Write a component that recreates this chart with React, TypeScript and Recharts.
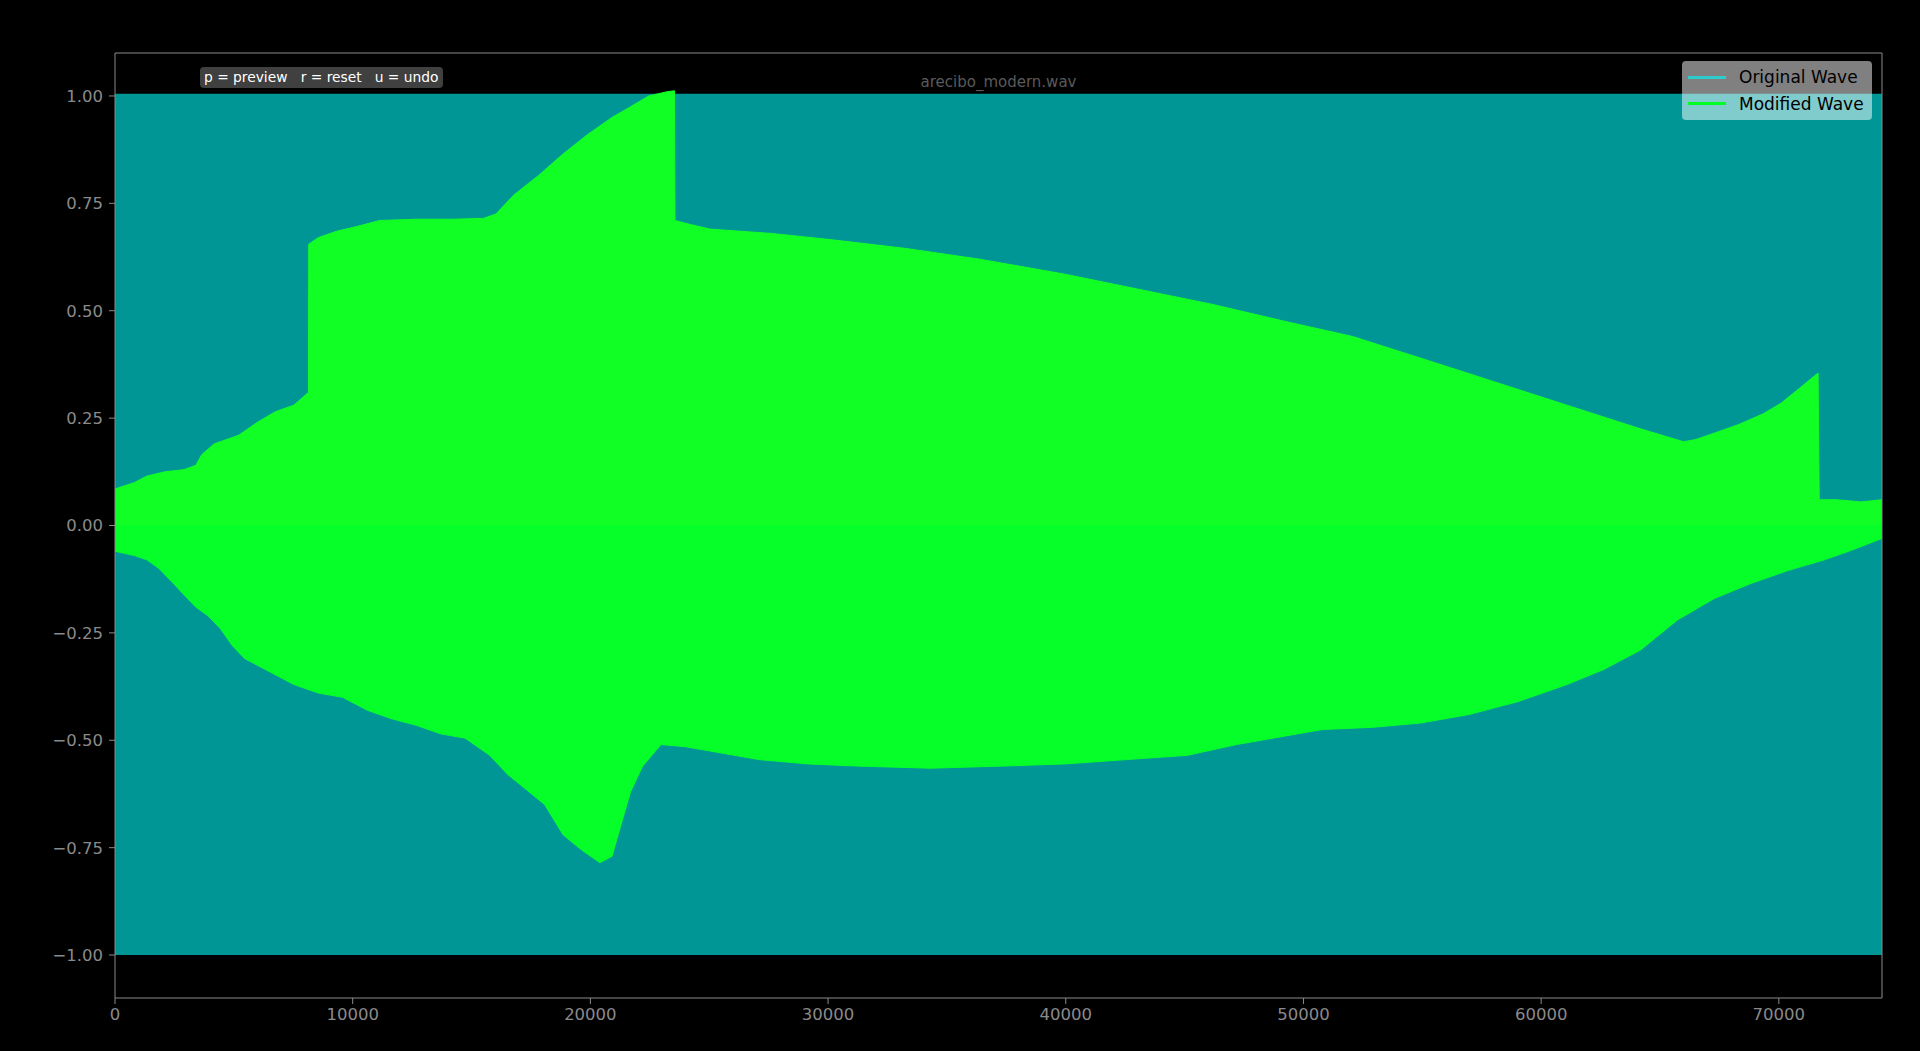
import React from 'react';
import { ComposedChart, Area, XAxis, YAxis, Legend, ReferenceLine } from 'recharts';

// envelope of the modified wave
const upperX = [0, 820, 1340, 2100, 2900, 3400, 3650, 4170, 5200, 5980, 6750, 7520, 8140, 8150, 8550, 9320, 10100, 11130, 12670, 14220, 15500, 16020, 16790, 17820, 18850, 19880, 20910, 21690, 22460, 23230, 23540, 23560, 24260, 25030, 27610, 30180, 33270, 36370, 39970, 43060, 46150, 49240, 52070, 54910, 58000, 61090, 64180, 65990, 66500, 67280, 68310, 69340, 70100, 70880, 71650, 71700, 72420, 73450, 74340];
const upperY = [0.085, 0.1, 0.115, 0.125, 0.13, 0.14, 0.165, 0.19, 0.21, 0.24, 0.265, 0.28, 0.31, 0.655, 0.67, 0.685, 0.695, 0.71, 0.713, 0.713, 0.715, 0.725, 0.77, 0.815, 0.865, 0.91, 0.95, 0.975, 1.0, 1.01, 1.012, 0.71, 0.7, 0.69, 0.68, 0.665, 0.645, 0.62, 0.585, 0.55, 0.515, 0.475, 0.44, 0.39, 0.335, 0.28, 0.225, 0.195, 0.2, 0.215, 0.235, 0.26, 0.285, 0.32, 0.355, 0.06, 0.06, 0.055, 0.06];

const lowerX = [0, 820, 1340, 1850, 2370, 2880, 3400, 3910, 4430, 4940, 5460, 6490, 7520, 8550, 9580, 10610, 11640, 12670, 13700, 14730, 15760, 16530, 17310, 18080, 18850, 19620, 20400, 20910, 21270, 21690, 22200, 22970, 24000, 25030, 27090, 29150, 31210, 34300, 37400, 39970, 42550, 45120, 47180, 49240, 50790, 52850, 54910, 56970, 59030, 61090, 62640, 64180, 65730, 67280, 68820, 70370, 71910, 72940, 74340];
const lowerY = [-0.06, -0.07, -0.08, -0.1, -0.13, -0.16, -0.19, -0.21, -0.24, -0.28, -0.31, -0.34, -0.37, -0.39, -0.4, -0.43, -0.45, -0.465, -0.485, -0.495, -0.535, -0.58, -0.615, -0.65, -0.72, -0.755, -0.785, -0.77, -0.7, -0.62, -0.56, -0.51, -0.515, -0.525, -0.545, -0.555, -0.56, -0.565, -0.56, -0.555, -0.545, -0.535, -0.51, -0.49, -0.475, -0.47, -0.46, -0.44, -0.41, -0.37, -0.335, -0.29, -0.22, -0.17, -0.135, -0.105, -0.08, -0.06, -0.03];

// original wave is clipped full scale over the whole file
const originalX = [0, 74340];
const originalLow = [-1.0, -1.0];
const originalHigh = [1.005, 1.005];

const xTicks = [0, 10000, 20000, 30000, 40000, 50000, 60000, 70000];
const yTicks = [-1, -0.75, -0.5, -0.25, 0, 0.25, 0.5, 0.75, 1];

const seriesNames = ['Original Wave', 'Modified Wave'];
const seriesColors = ['#2ccccc', '#00ff22'];

const X_MAX = 74340;
const Y_MAX = 1.1;
const FONT = '"DejaVu Sans", sans-serif';
const AXIS = '#8a8a8a';

const originalData = originalX.map((x, i) => ({ x, range: [originalLow[i], originalHigh[i]] }));
const upperData = upperX.map((x, i) => ({ x, range: [0, upperY[i]] }));
const lowerData = lowerX.map((x, i) => ({ x, range: [lowerY[i], 0] }));

const fmtY = (v: number) => (v < 0 ? '\u2212' + Math.abs(v).toFixed(2) : v.toFixed(2));

const LegendBox = () => (
  <div
    style={{
      background: 'rgba(255,255,255,0.5)',
      borderRadius: 4,
      padding: '3px 8px 3px 6px',
      fontFamily: FONT,
      fontSize: 17,
      color: '#000',
    }}
  >
    {seriesNames.map((name, i) => (
      <div key={name} style={{ display: 'flex', alignItems: 'center', height: 26.5 }}>
        <span style={{ width: 38, height: 3, background: seriesColors[i], marginRight: 13 }} />
        <span>{name}</span>
      </div>
    ))}
  </div>
);

export default function App() {
  return (
    <div style={{ position: 'absolute', left: 0, top: 0, width: 1920, height: 1051, background: '#000', overflow: 'hidden' }}>
      <ComposedChart width={1920} height={1051} margin={{ top: 53, right: 38, bottom: 0, left: 0 }}>
        <XAxis
          dataKey="x"
          type="number"
          domain={[0, X_MAX]}
          ticks={xTicks}
          allowDataOverflow
          height={53}
          stroke={AXIS}
          tickSize={6}
          tickMargin={4}
          tick={{ fill: AXIS, fontSize: 16.5, fontFamily: FONT }}
        />
        <YAxis
          type="number"
          domain={[-Y_MAX, Y_MAX]}
          ticks={yTicks}
          allowDataOverflow
          width={115}
          stroke={AXIS}
          tickSize={6}
          tickMargin={6}
          tickFormatter={fmtY}
          tick={{ fill: AXIS, fontSize: 16.5, fontFamily: FONT }}
        />
        <Area data={originalData} dataKey="range" type="linear" fill="#009696" fillOpacity={1} stroke="none" isAnimationActive={false} />
        <Area data={upperData} dataKey="range" type="linear" fill="#12ff26" fillOpacity={1} stroke="#12ff26" strokeWidth={1} isAnimationActive={false} />
        <Area data={lowerData} dataKey="range" type="linear" fill="#06ff28" fillOpacity={1} stroke="#06ff28" strokeWidth={1} isAnimationActive={false} />
        {/* top and right spines */}
        <ReferenceLine y={Y_MAX} stroke={AXIS} strokeWidth={1} />
        <ReferenceLine x={X_MAX} stroke={AXIS} strokeWidth={1} />
        <Legend
          layout="vertical"
          align="center"
          verticalAlign="middle"
          content={() => <LegendBox />}
          wrapperStyle={{ position: 'absolute', left: 1682, top: 61, width: 'auto' }}
        />
      </ComposedChart>
      <div
        style={{
          position: 'absolute',
          left: 200,
          top: 67,
          padding: '2px 4px',
          background: '#404040',
          borderRadius: 4,
          color: '#fff',
          fontFamily: FONT,
          fontSize: 13.8,
          whiteSpace: 'pre',
          lineHeight: '17px',
        }}
      >
        {'p = preview   r = reset   u = undo'}
      </div>
      <div
        style={{
          position: 'absolute',
          left: 115,
          width: 1767,
          top: 72.5,
          textAlign: 'center',
          color: '#5a5a5a',
          fontFamily: FONT,
          fontSize: 15,
        }}
      >
        arecibo_modern.wav
      </div>
    </div>
  );
}
